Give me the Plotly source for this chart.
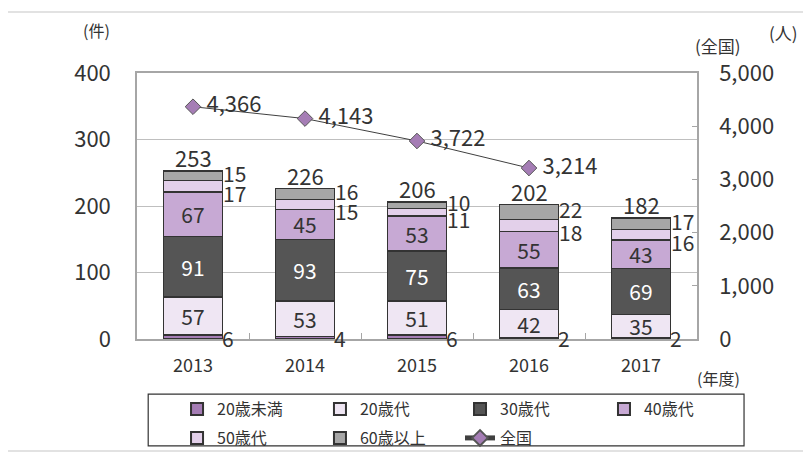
import plotly.graph_objects as go

years = ["2013", "2014", "2015", "2016", "2017"]
under20 = [6, 4, 6, 2, 2]
age20s = [57, 53, 51, 42, 35]
age30s = [91, 93, 75, 63, 69]
age40s = [67, 45, 53, 55, 43]
age50s = [17, 15, 11, 18, 16]
age60p = [15, 16, 10, 22, 17]
national = [4366, 4143, 3722, 3214, None]

FONT = "Noto Sans CJK JP, sans-serif"
OUT = "#333333"
TXT = "#333333"

series = [
    ("20歳未満", under20, "#a57db5", None),
    ("20歳代", age20s, "#efe6f3", "#333333"),
    ("30歳代", age30s, "#555555", "#ffffff"),
    ("40歳代", age40s, "#c7a9d4", "#333333"),
    ("50歳代", age50s, "#e3d0ea", None),
    ("60歳以上", age60p, "#a6a6a6", None),
]
legend_ids = ["legend", "legend2", "legend3", "legend4", "legend5", "legend6", "legend7"]

fig = go.Figure()
for k, (name, vals, color, tcolor) in enumerate(series):
    fig.add_trace(go.Bar(
        x=years, y=vals, name=name, legend=legend_ids[k],
        marker=dict(color=color, line=dict(color=OUT, width=1.5)),
        text=[str(v) for v in vals] if tcolor else None,
        textposition="inside" if tcolor else "none",
        insidetextanchor="middle", textangle=0, constraintext="none",
        textfont=dict(color=tcolor if tcolor else TXT, size=21, family=FONT),
        hoverinfo="skip",
    ))

fig.add_trace(go.Scatter(
    x=years, y=national, name="全国", yaxis="y2", legend=legend_ids[6],
    mode="lines+markers+text",
    line=dict(color="#404040", width=1),
    marker=dict(symbol="diamond", size=12, color="#a57db5", line=dict(color="#555555", width=1)),
    text=["\u00a0" + f"{v:,}" if v is not None else "" for v in national],
    textposition="middle right",
    textfont=dict(size=22, color=TXT, family=FONT),
    cliponaxis=False,
))

annotations = []
for i, y in enumerate(years):
    base50 = under20[i] + age20s[i] + age30s[i] + age40s[i]
    base60 = base50 + age50s[i]
    total = base60 + age60p[i]
    annotations.append(dict(x=i, y=total, xref="x", yref="y", text=str(total),
                            showarrow=False, xanchor="center", yanchor="bottom", yshift=-4,
                            font=dict(size=22, color=TXT, family=FONT)))
    annotations.append(dict(x=i, y=base60 + age60p[i] / 2, xref="x", yref="y", text=str(age60p[i]),
                            showarrow=False, xanchor="left", xshift=28, yshift=3,
                            font=dict(size=21, color=TXT, family=FONT)))
    annotations.append(dict(x=i, y=base50 + age50s[i] / 2, xref="x", yref="y", text=str(age50s[i]),
                            showarrow=False, xanchor="left", xshift=28, yshift=-7,
                            font=dict(size=21, color=TXT, family=FONT)))
    annotations.append(dict(x=i, y=0, xref="x", yref="y", text=str(under20[i]),
                            showarrow=False, xanchor="left", xshift=27, yshift=1,
                            font=dict(size=21, color=TXT, family=FONT)))

annotations += [
    dict(x=-0.072, y=1.162, xref="paper", yref="paper", text="(件)", showarrow=False,
         xanchor="center", yanchor="middle", font=dict(size=16, color=TXT, family=FONT)),
    dict(x=1.038, y=1.105, xref="paper", yref="paper", text="(全国)", showarrow=False,
         xanchor="center", yanchor="middle", font=dict(size=17, color=TXT, family=FONT)),
    dict(x=1.154, y=1.154, xref="paper", yref="paper", text="(人)", showarrow=False,
         xanchor="center", yanchor="middle", font=dict(size=17, color=TXT, family=FONT)),
    dict(x=1.038, y=-0.147, xref="paper", yref="paper", text="(年度)", showarrow=False,
         xanchor="center", yanchor="middle", font=dict(size=16, color=TXT, family=FONT)),
]

shapes = [
    dict(type="rect", xref="paper", yref="paper", x0=0.02, x1=1.084, y0=-0.207, y1=-0.402,
         line=dict(color="#333333", width=1.2)),
    dict(type="rect", xref="paper", yref="paper", x0=-0.232, x1=1.2, y0=1.229, y1=-0.421,
         line=dict(color="#d9d9d9", width=1.5)),
]

leg_common = dict(orientation="h", xref="container", yref="container", xanchor="left",
                  yanchor="middle", font=dict(size=16, family=FONT, color=TXT),
                  bgcolor="rgba(0,0,0,0)", itemsizing="constant")
leg_x = [0.2105, 0.3885, 0.5629, 0.7422, 0.2105, 0.3885, 0.5629]
leg_y = [0.0968, 0.0968, 0.0968, 0.0968, 0.0315, 0.0315, 0.0315]
legend_layout = {lid: dict(x=lx, y=ly, **leg_common)
                 for lid, lx, ly in zip(legend_ids, leg_x, leg_y)}

fig.update_layout(
    width=803, height=444,
    margin=dict(l=129, r=114, t=65, b=113, autoexpand=False),
    barmode="stack", bargap=0.473,
    plot_bgcolor="white", paper_bgcolor="white",
    font=dict(family=FONT, color=TXT),
    showlegend=True,
    xaxis=dict(type="category", range=[-0.5, 4.5], showline=True, linecolor="#a6a6a6",
               linewidth=1.5, mirror=True,
               ticks="inside", tickson="boundaries", ticklen=6, tickcolor="#a6a6a6",
               tickfont=dict(size=18, family=FONT), ticklabelstandoff=10, tickangle=0),
    yaxis=dict(range=[0, 400], dtick=100, showgrid=True, gridcolor="#bfbfbf", gridwidth=1.2,
               showline=True, linecolor="#a6a6a6", linewidth=1.5, zeroline=False,
               tickfont=dict(size=22, family=FONT), ticklabelstandoff=20),
    yaxis2=dict(range=[0, 5000], dtick=1000, overlaying="y", side="right", showgrid=False,
                tickformat=",", ticks="inside", ticklen=5, tickcolor="#a6a6a6",
                showline=True, linecolor="#a6a6a6", linewidth=1.5, zeroline=False,
                tickfont=dict(size=22, family=FONT), ticklabelstandoff=16),
    annotations=annotations,
    shapes=shapes,
    **legend_layout,
)

fig.write_html("out.html")
